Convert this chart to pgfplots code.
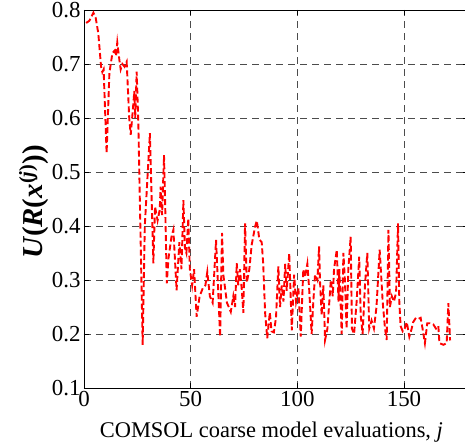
\documentclass[border=0pt]{standalone}
\usepackage{fontspec}
\setmainfont{Liberation Serif}
\usepackage{pgfplots}
\pgfplotsset{compat=1.18}
\pgfkeys{/pgf/number format/assume math mode=true}
\begin{document}
\begin{tikzpicture}
\begin{axis}[
  scale only axis,
  width=384bp, height=378bp,
  xmin=0, xmax=180, ymin=0.1, ymax=0.8,
  xtick={0,50,100,150},
  ytick={0.1,0.2,0.3,0.4,0.5,0.6,0.7,0.8},
  yticklabels={0.1,0.2,0.3,0.4,0.5,0.6,0.7,0.8},
  xticklabels={0,50,100,150},
  tick label style={font=\fontsize{23}{27}\selectfont},
  xlabel style={font=\fontsize{22.5}{26}\selectfont},
  ylabel style={font=\fontsize{29}{33}\selectfont},
  tick align=inside,
  major tick length=5bp,
  tick style={black, line width=0.6bp},
  axis line style={black, line width=0.8bp},
  grid=major,
  major grid style={black!70, dash pattern=on 7bp off 5bp, line width=0.8bp},
  xlabel={COMSOL coarse model evaluations, \textit{j}},
  ylabel={\textbf{\textit{U}(\textit{R}(\textit{x}\textsuperscript{(\textit{j})}))}},
  xlabel style={at={(axis description cs:0.488,0)}, anchor=base, yshift=-49bp},
  ylabel style={at={(axis description cs:-0.109,0.492)}, anchor=base},
]
\addplot[red, line width=1.9bp, dash pattern=on 6bp off 3bp] coordinates {
(1,0.776) (2.5,0.78) (4.4,0.795) (5.5,0.785) (6.7,0.757) (8.0,0.695) (8.6,0.685) (9.2,0.69)
(10.6,0.535) (11.9,0.683) (13.3,0.72) (14.4,0.725) (15.0,0.715) (15.6,0.74) (16.6,0.707)
(17.2,0.69) (18,0.70) (19,0.695) (20,0.704) (21.2,0.60) (21.9,0.569) (23,0.62) (23.6,0.65)
(24,0.60) (24.7,0.686) (25.5,0.585) (27.5,0.18) (28.5,0.40) (30.9,0.572) (32.5,0.331)
(33.3,0.436) (34.5,0.41) (35.5,0.43) (35.9,0.473) (36.6,0.42) (37.5,0.531) (38,0.45)
(38.8,0.294) (39.6,0.34) (41,0.38) (41.9,0.393) (43.4,0.281) (44.7,0.37) (45.7,0.32)
(46.6,0.448) (47.3,0.36) (48,0.35) (48.9,0.414) (49.6,0.32) (50.7,0.29) (51.6,0.32)
(52.8,0.232) (54.2,0.27) (55.7,0.285) (56.9,0.29) (57.8,0.315) (59,0.27) (60.3,0.258)
(61.9,0.374) (62.6,0.31) (63.8,0.195) (64.7,0.387) (65.3,0.31) (67,0.258) (68.8,0.241)
(70,0.27) (70.8,0.25) (71.6,0.331) (72.3,0.29) (73.1,0.32) (74,0.28) (74.7,0.239)
(75.5,0.405) (76.3,0.295) (77.5,0.32) (78.6,0.365) (80.2,0.399) (81,0.41) (82.2,0.375)
(83.3,0.37) (84,0.33) (84.9,0.239) (85.9,0.192) (87.1,0.24) (87.9,0.205) (89,0.203)
(90,0.23) (91.1,0.325) (91.9,0.25) (92.7,0.29) (93.5,0.26) (94.3,0.33) (95,0.28)
(96.2,0.349) (97.4,0.207) (98.5,0.31) (99.4,0.26) (100.5,0.285) (101.6,0.195) (102.8,0.32)
(103.6,0.305) (104.7,0.33) (105.6,0.28) (106.7,0.2) (107.5,0.26) (108.3,0.31) (109.4,0.30)
(110.2,0.362) (110.6,0.30) (111.4,0.235) (112.2,0.29) (113,0.189) (114.1,0.21) (115,0.26)
(115.7,0.30) (116.6,0.27) (117.2,0.32) (118.5,0.356) (119.3,0.26) (119.7,0.32) (120.8,0.2)
(121.6,0.35) (122.3,0.30) (123.1,0.21) (123.9,0.32) (125,0.38) (125.6,0.21) (126.6,0.2)
(127.8,0.26) (129,0.343) (129.7,0.235) (130.6,0.2) (131.7,0.29) (132.8,0.35) (133.7,0.21)
(134.8,0.225) (135.9,0.21) (137.1,0.25) (138.6,0.356) (140,0.26) (141.1,0.21) (141.9,0.189)
(142.7,0.393) (143.4,0.25) (144.3,0.27) (145.3,0.26) (146.3,0.277) (147.2,0.405) (147.8,0.26)
(148.4,0.215) (149.4,0.205) (150.3,0.21) (151.3,0.222) (152.5,0.195) (153.6,0.21) (154.3,0.222)
(155.6,0.23) (156.7,0.228) (157.8,0.23) (158.7,0.21) (159.8,0.183) (160.9,0.22) (162.1,0.22)
(163.7,0.218) (165,0.21) (166.1,0.215) (166.6,0.183) (168.5,0.18) (170,0.183) (170.8,0.257)
(171.6,0.188)
};
\coordinate (bl) at (rel axis cs:0,0);
\coordinate (tr) at (rel axis cs:1,1);
\end{axis}
\pgfresetboundingbox
\path ([xshift=-84bp,yshift=-55bp]bl) rectangle ([xshift=-3bp,yshift=10bp]tr);
\end{tikzpicture}
\end{document}
